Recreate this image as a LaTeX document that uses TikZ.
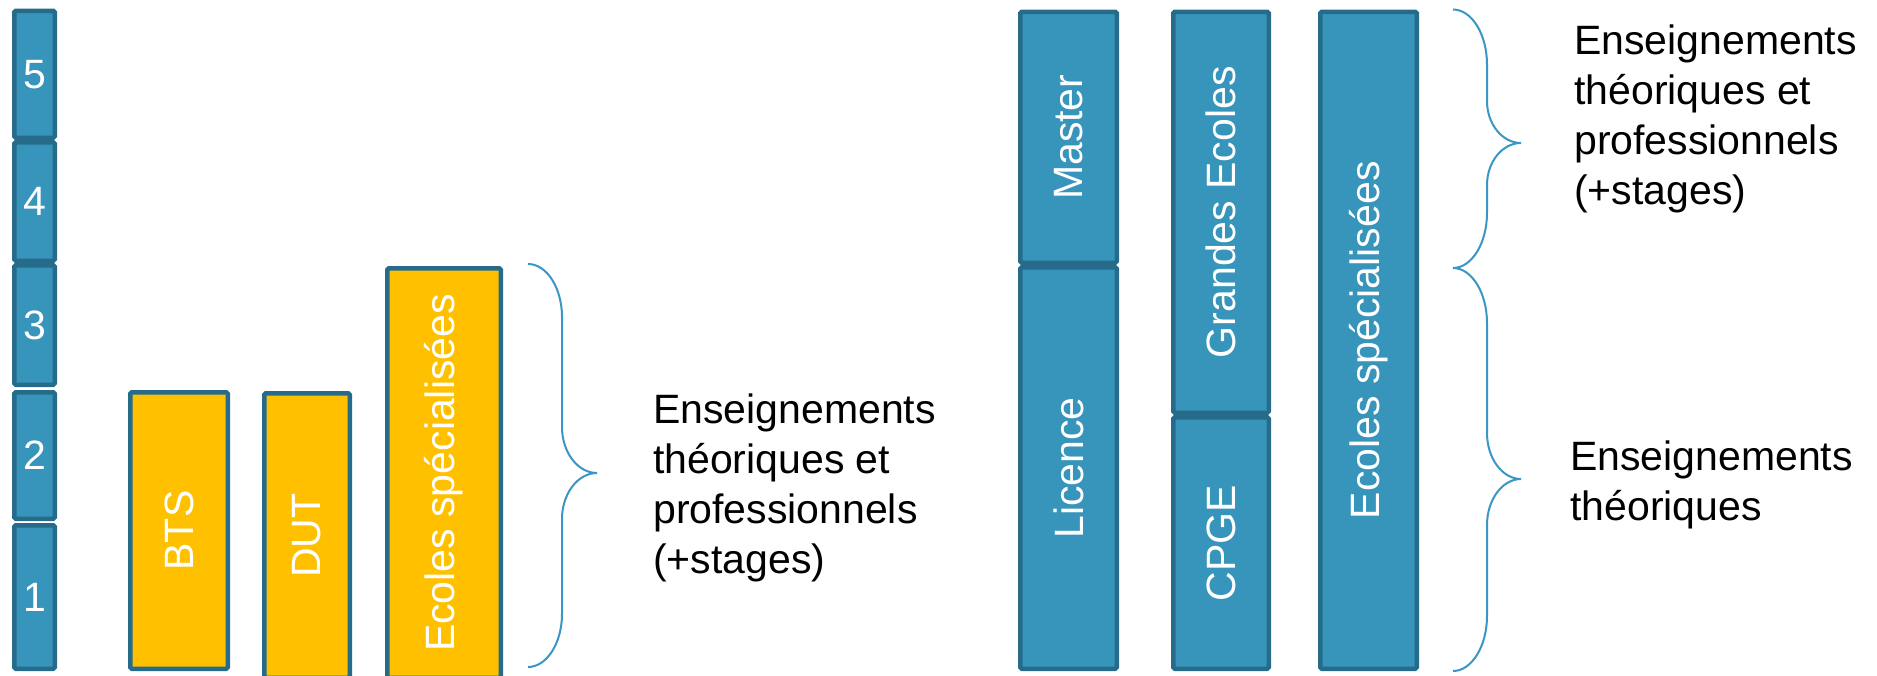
\documentclass[tikz,border=0pt]{standalone}
\usepackage{fontspec}
\setmainfont{Liberation Sans}
\definecolor{bfill}{RGB}{55,148,187}
\definecolor{bdraw}{RGB}{38,108,138}
\definecolor{yfill}{RGB}{255,192,0}
\definecolor{bracecol}{RGB}{58,150,196}
\newcommand{\drawbrace}[8]{%
  % #1 end x, #2 spine x, #3 tip x, #4 top y, #5 tip y, #6 bottom y, #7 end curve, #8 tip curve
  \draw[bracestyle] (#1,#4)
    .. controls ({#1+0.55*(#2-#1)},#4) and (#2,{#4+0.45*#7}) .. (#2,{#4+#7})
    -- (#2,{#5-#8})
    .. controls (#2,{#5-0.45*#8}) and ({#2+0.45*(#3-#2)},#5) .. (#3,#5)
    .. controls ({#2+0.45*(#3-#2)},#5) and (#2,{#5+0.45*#8}) .. (#2,{#5+#8})
    -- (#2,{#6-#7})
    .. controls (#2,{#6-0.45*#7}) and ({#1+0.55*(#2-#1)},#6) .. (#1,#6);}
\begin{document}
\begin{tikzpicture}[x=1pt,y=-1pt,
  box/.style={draw=bdraw, line width=4.5pt, rounded corners=1.5pt, inner sep=0pt,
    text=white, font=\fontsize{41}{50}\selectfont},
  bluebox/.style={box, fill=bfill},
  yellowbox/.style={box, fill=yfill},
  vlabel/.style={rotate=90},
  bracestyle/.style={draw=bracecol, line width=2pt},
  note/.style={anchor=north west, align=left, inner sep=0pt, text=black,
    font=\fontsize{41}{50}\selectfont}]
\useasboundingbox (0,0) rectangle (1877,675);
% level column
\node[bluebox, minimum width=40.5pt, minimum height=126.9pt] (l5) at (34.5,74.3) {5};
\node[bluebox, minimum width=40.5pt, minimum height=118.5pt] (l4) at (34.5,201.5) {4};
\node[bluebox, minimum width=40.5pt, minimum height=119.5pt] (l3) at (34.5,325) {3};
\node[bluebox, minimum width=40.5pt, minimum height=126.5pt] (l2) at (34.5,455.5) {2};
\node[bluebox, minimum width=40.5pt, minimum height=143.5pt] (l1) at (34.5,597) {1};
% short courses
\node[yellowbox, minimum width=97.5pt, minimum height=276.5pt] (bts) at (179,530.5) {};
\node[white, vlabel, font=\fontsize{41}{50}\selectfont] (btst) at (bts.center) {BTS};
\node[yellowbox, minimum width=85.5pt, minimum height=284.5pt] (dut) at (307,535.5) {};
\node[white, vlabel, font=\fontsize{41}{50}\selectfont] (dutt) at (dut.center) {DUT};
\node[yellowbox, minimum width=113.5pt, minimum height=409.5pt] (esy) at (444,473) {};
\node[white, vlabel, font=\fontsize{41}{50}\selectfont] (esyt) at (esy.center) {Ecoles spécialisées};
\drawbrace{528}{562}{597}{264}{473}{667}{53}{46}
\node[note] (t1) at (653,394) {Enseignements\\théoriques et\\professionnels\\(+stages)};
% long courses
\node[bluebox, minimum width=96.5pt, minimum height=251pt] (master) at (1068.5,137.25) {};
\node[white, vlabel, font=\fontsize{41}{50}\selectfont] (mastert) at (master.center) {Master};
\node[bluebox, minimum width=96.5pt, minimum height=401.5pt] (licence) at (1068.5,468) {};
\node[white, vlabel, font=\fontsize{41}{50}\selectfont] (licencet) at (licence.center) {Licence};
\node[bluebox, minimum width=95.5pt, minimum height=401pt] (ge) at (1221,212.25) {};
\node[white, vlabel, font=\fontsize{41}{50}\selectfont] (get) at (ge.center) {Grandes Ecoles};
\node[bluebox, minimum width=95.5pt, minimum height=251.5pt] (cpge) at (1221,543) {};
\node[white, vlabel, font=\fontsize{41}{50}\selectfont] (cpget) at (cpge.center) {CPGE};
\node[bluebox, minimum width=96.5pt, minimum height=657pt] (esb) at (1368.5,340.25) {};
\node[white, vlabel, font=\fontsize{41}{50}\selectfont] (esbt) at (esb.center) {Ecoles spécialisées};
\drawbrace{1453}{1487}{1521}{9.5}{143}{268}{55}{42}
\drawbrace{1453}{1487}{1521}{268}{479}{671}{55}{46}
\node[note] (t2) at (1574,25) {Enseignements\\théoriques et\\professionnels\\(+stages)};
\node[note] (t3) at (1570,441) {Enseignements\\théoriques};
\end{tikzpicture}
\end{document}
